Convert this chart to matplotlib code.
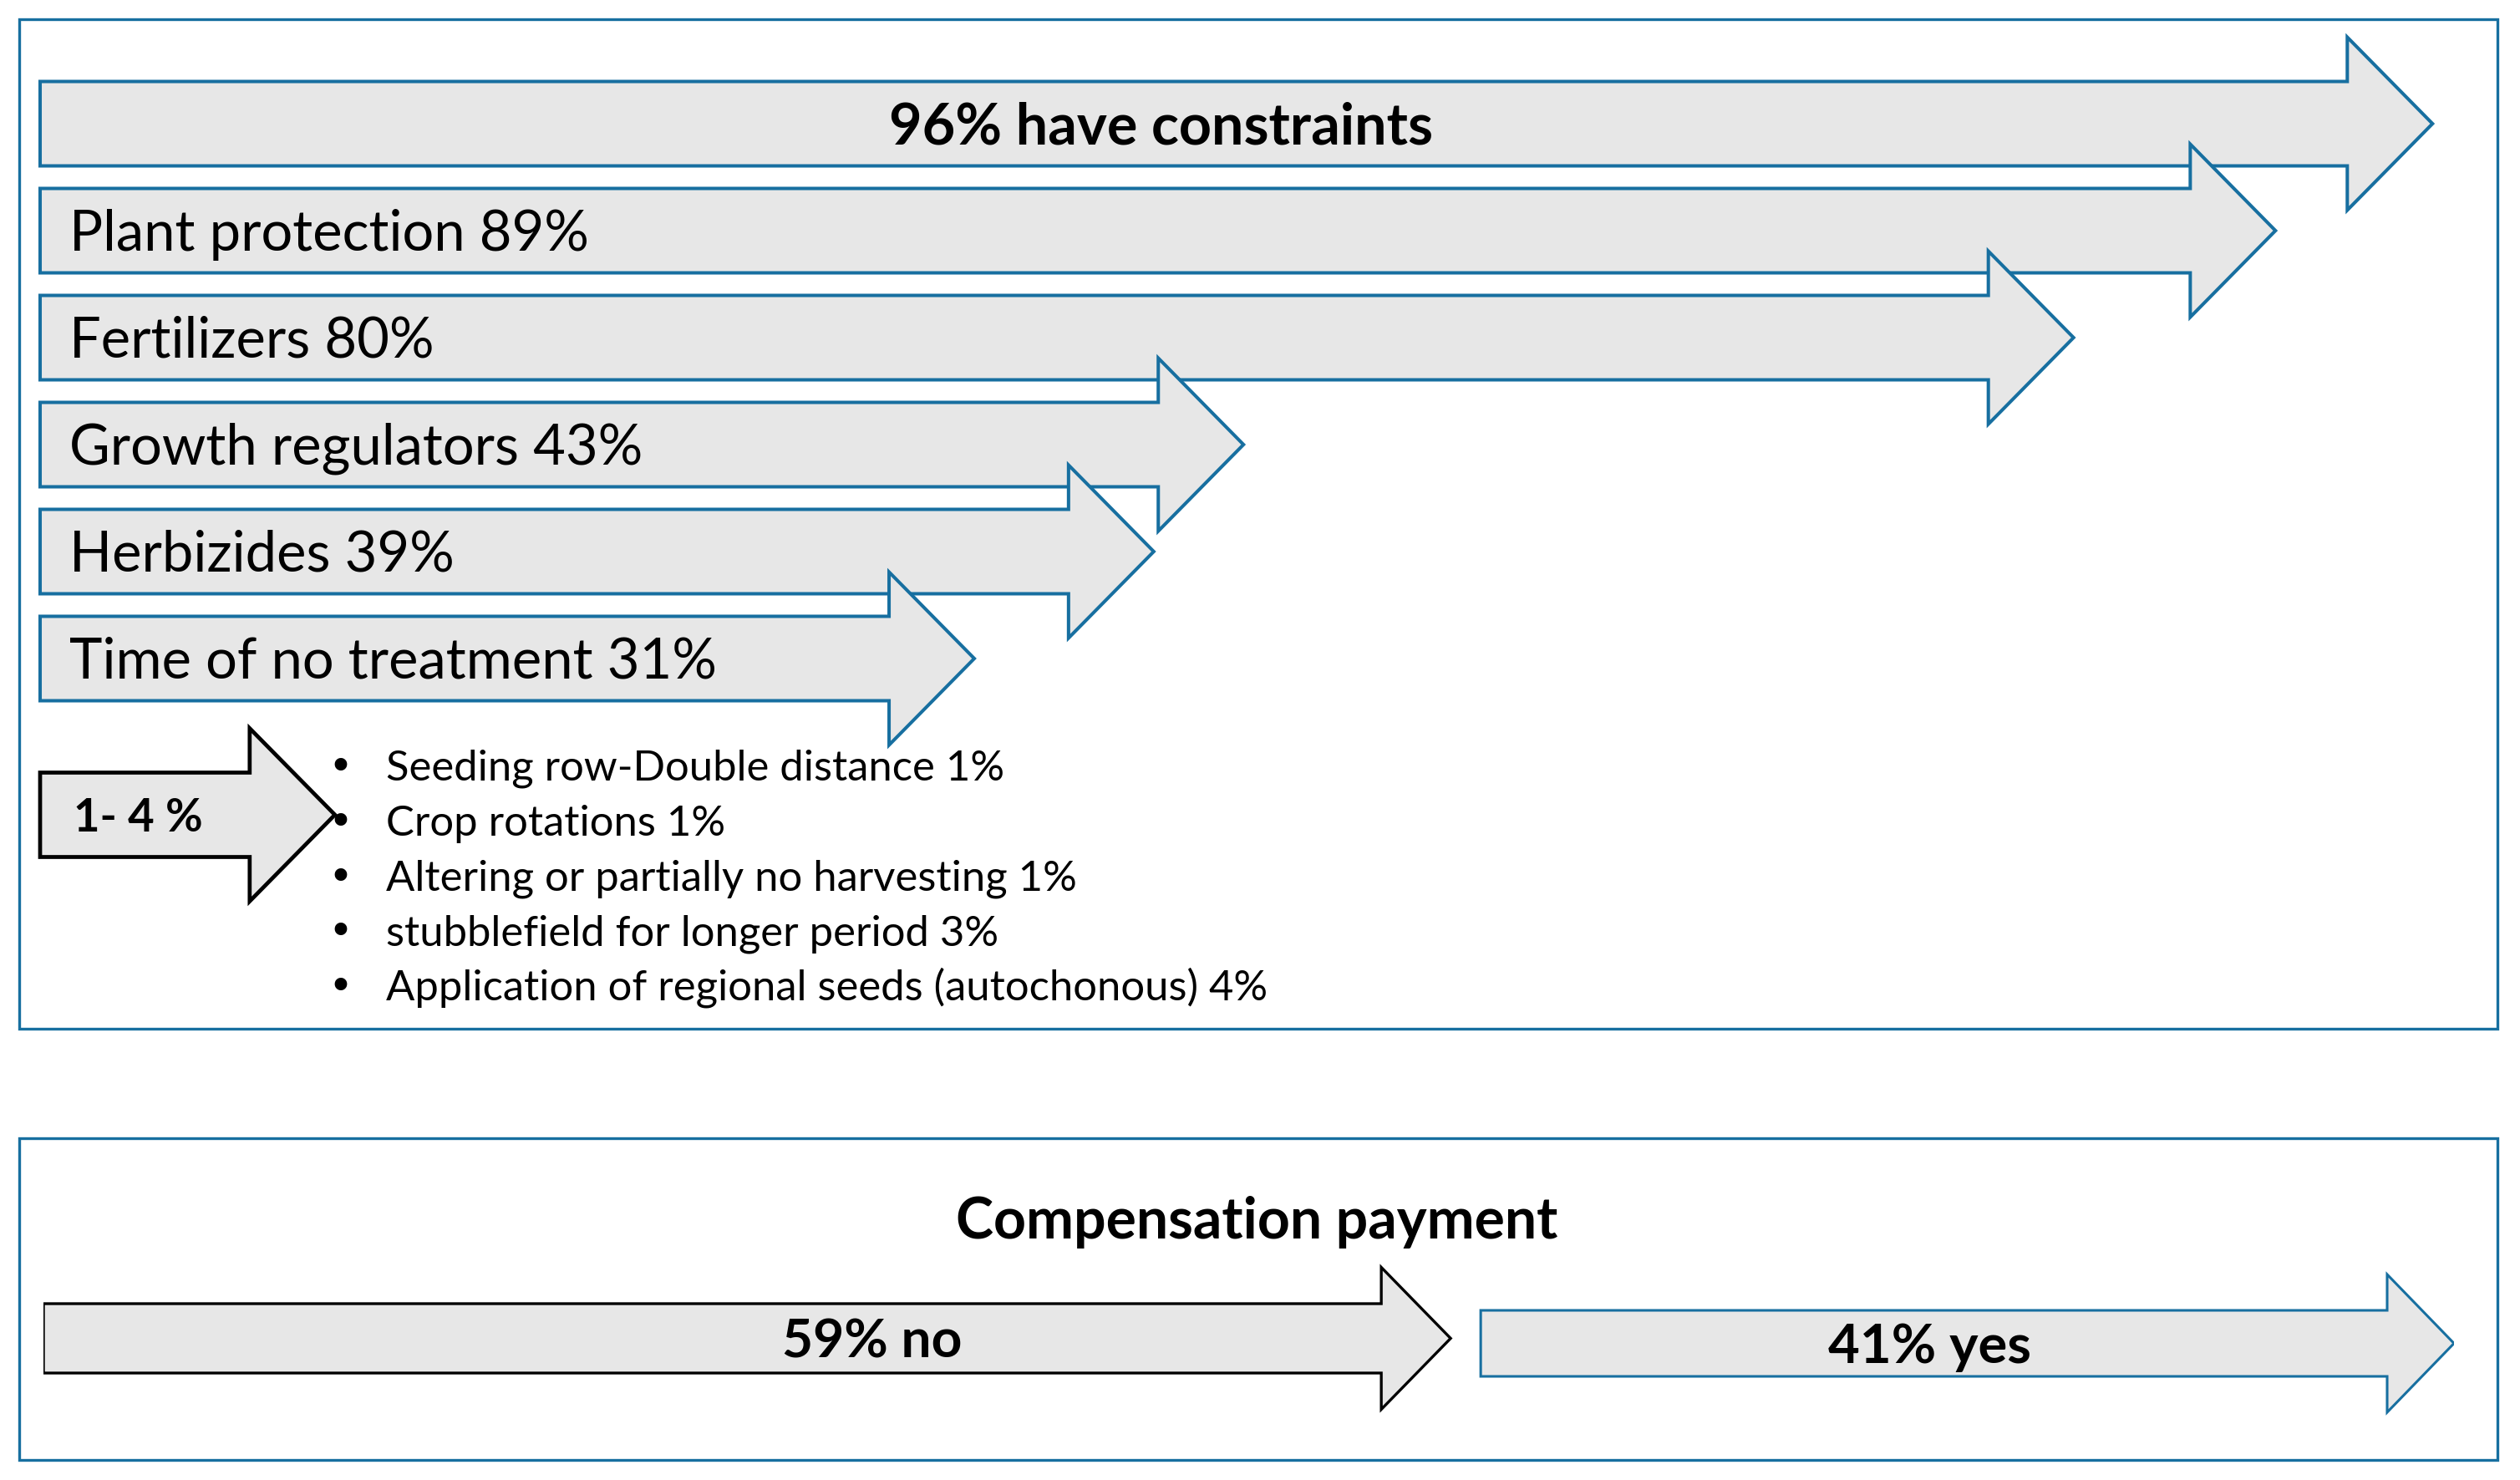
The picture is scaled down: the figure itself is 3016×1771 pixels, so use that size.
import matplotlib
matplotlib.use("Agg")
import matplotlib.pyplot as plt
from matplotlib.patches import Polygon, Rectangle

# ---------------- data ----------------
total_label = "have constraints"
total_value = 96
categories = ["Plant protection", "Fertilizers", "Growth regulators",
              "Herbizides", "Time of no treatment"]
values = [89, 80, 43, 39, 31]
minor_range = [1, 4]
minor_items = ["Seeding row-Double distance", "Crop rotations",
               "Altering or partially no harvesting",
               "stubblefield for longer period",
               "Application of regional seeds (autochonous)"]
minor_values = [1, 1, 1, 3, 4]
comp_title = "Compensation payment"
comp_labels = ["no", "yes"]
comp_values = [59, 41]

# ---------------- style / layout ----------------
W, H = 3016, 1771
FONT = ["Lato", "DejaVu Sans"]
BLUE = "#176fa0"
FILL = "#e7e7e7"
PCT_PX = 26.85        # pixels per percentage point (top panel)
ZERO_PX = 333.7       # pixel position of 0 %
ROW0_PX, ROW_PX = 148, 128
START_PX = 48

plt.rcParams["font.family"] = FONT
fig = plt.figure(figsize=(W / 100, H / 100), dpi=100)
renderer = fig.canvas.get_renderer()


def fit(texts, targets, weight="normal"):
    tot = 0
    for s in texts:
        t = fig.text(0, 0, s, fontsize=50, fontweight=weight)
        tot += t.get_window_extent(renderer=renderer).width
        t.remove()
    return 50 * sum(targets) / tot


def arrow(ax, x0, x1, yc, sh, hh, hl, ec, lw, z):
    pts = [(x0, yc - sh), (x1 - hl, yc - sh), (x1 - hl, yc - hh), (x1, yc),
           (x1 - hl, yc + hh), (x1 - hl, yc + sh), (x0, yc + sh)]
    ax.add_patch(Polygon(pts, closed=True, fc=FILL, ec=ec, lw=lw,
                         joinstyle="miter", zorder=z))


# background axes in pixels for frames
bg = fig.add_axes([0, 0, 1, 1])
bg.set_xlim(0, W)
bg.set_ylim(H, 0)
bg.axis("off")
bg.add_patch(Rectangle((23, 23), 2966, 1208, fill=False, ec=BLUE, lw=2.4))
bg.add_patch(Rectangle((23, 1362), 2966, 385, fill=False, ec=BLUE, lw=2.4))

# top panel: x in percent, y in rows
ax = fig.add_axes([0, 0, 1, 1])
ax.set_xlim(-ZERO_PX / PCT_PX, (W - ZERO_PX) / PCT_PX)
ax.set_ylim((H - ROW0_PX) / ROW_PX, -ROW0_PX / ROW_PX)
ax.axis("off")
ax.patch.set_alpha(0)

x_start = (START_PX - ZERO_PX) / PCT_PX
sh = 50.5 / ROW_PX
hh = 103.5 / ROW_PX
hl = 102 / PCT_PX

all_vals = [total_value] + values
for i, v in enumerate(all_vals):
    arrow(ax, x_start, v, i, sh, hh, hl, BLUE, 2.9, 2 + i)

label_texts = [f"{c} {v}%" for c, v in zip(categories, values)]
lab_size = fit(label_texts, [623, 433, 689, 454, 781])
cap = lab_size * 100 / 72 * 0.7165
lab_x = (83 - ZERO_PX) / PCT_PX
for i, s in enumerate(label_texts):
    ax.text(lab_x, i + 1 + cap / 2 / ROW_PX, s, fontsize=lab_size,
            ha="left", va="baseline", zorder=20)

title = f"{total_value}% {total_label}"
t_size = fit([title], [652], "bold")
cap_t = t_size * 100 / 72 * 0.7165
ax.text((1389 - ZERO_PX) / PCT_PX, cap_t / 2 / ROW_PX, title, fontsize=t_size,
        fontweight="bold", ha="center", va="baseline", zorder=20)

# minor constraints arrow (1-4 %)
minor_row = (975 - ROW0_PX) / ROW_PX
minor_tip = sum(minor_range) / 2
arrow(ax, x_start, minor_tip, minor_row, sh, hh, hl, "black", 3.4, 10)
mtxt = f"{minor_range[0]}- {minor_range[1]} %"
m_size = fit([mtxt], [155], "bold")
cap_m = m_size * 100 / 72 * 0.7165
ax.text((88 - ZERO_PX) / PCT_PX, minor_row + cap_m / 2 / ROW_PX, mtxt,
        fontsize=m_size, fontweight="bold", ha="left", va="baseline", zorder=20)

bul_texts = [f"{s} {v}%" for s, v in zip(minor_items, minor_values)]
b_size = fit([bul_texts[0], bul_texts[2], bul_texts[4]], [731, 825, 1060])
for k, s in enumerate(bul_texts):
    yb = (934 + 65.75 * k - ROW0_PX) / ROW_PX
    ax.text((407 - ZERO_PX) / PCT_PX, yb, "\u2022", fontsize=b_size,
            ha="center", va="baseline", family=["DejaVu Sans"], zorder=20)
    ax.text((462 - ZERO_PX) / PCT_PX, yb, s, fontsize=b_size,
            ha="left", va="baseline", zorder=20)

# bottom panel: x in percent of respondents, y in pixels
L, R = 52, 2937
ax2 = fig.add_axes([L / W, 0, (R - L) / W, 1])
ax2.set_xlim(0, 100)
ax2.set_ylim(H, 0)
ax2.axis("off")
ax2.patch.set_alpha(0)
gap = 36 / (R - L) * 100
px = (R - L) / 100

c_size = fit([comp_title], [722], "bold")
ax2.text((1504 - L) / px, 1482, comp_title, fontsize=c_size,
         fontweight="bold", ha="center", va="baseline")

no_end = comp_values[0] - gap / 2
yes_start = comp_values[0] + gap / 2
yes_end = comp_values[0] + comp_values[1]
arrow(ax2, 0, no_end, 1601.5, 41.5, 85, 83 / px, "black", 2.4, 3)
arrow(ax2, yes_start, yes_end, 1607.5, 39.5, 82.5, 80 / px, BLUE, 2.2, 3)

n_txt = f"{comp_values[0]}% {comp_labels[0]}"
y_txt = f"{comp_values[1]}% {comp_labels[1]}"
s_no = fit([n_txt], [216], "bold")
s_yes = fit([y_txt], [243], "bold")
cap_n = s_no * 100 / 72 * 0.7165
cap_y = s_yes * 100 / 72 * 0.7165
ax2.text(0.589 * no_end, 1601.5 + cap_n / 2, n_txt, fontsize=s_no,
         fontweight="bold", ha="center", va="baseline", zorder=10)
ax2.text(yes_start + 0.461 * (yes_end - yes_start), 1607.5 + cap_y / 2, y_txt,
         fontsize=s_yes, fontweight="bold", ha="center", va="baseline", zorder=10)

fig.savefig("out.png", dpi=100)
